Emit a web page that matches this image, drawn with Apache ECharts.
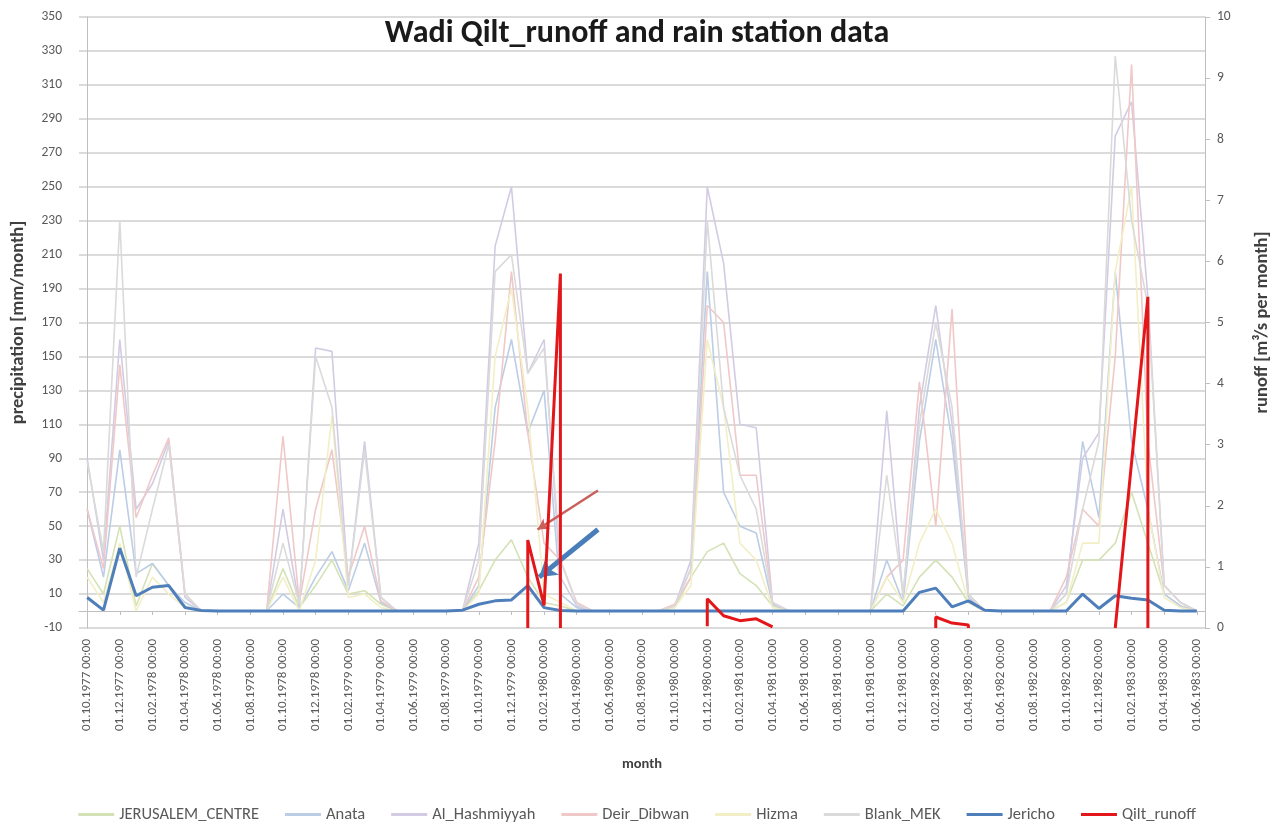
<!DOCTYPE html>
<html>
<head>
<meta charset="utf-8">
<script src="https://cdn.jsdelivr.net/npm/echarts@6/dist/echarts.min.js"></script>
<style>
html,body{margin:0;padding:0;background:#fff;}
#chart{width:1274px;height:823px;}
</style>
</head>
<body>
<div id="chart"></div>
<script>
var months = [
 "01.10.1977 00:00","01.11.1977 00:00","01.12.1977 00:00",
 "01.01.1978 00:00","01.02.1978 00:00","01.03.1978 00:00","01.04.1978 00:00","01.05.1978 00:00","01.06.1978 00:00",
 "01.07.1978 00:00","01.08.1978 00:00","01.09.1978 00:00","01.10.1978 00:00","01.11.1978 00:00","01.12.1978 00:00",
 "01.01.1979 00:00","01.02.1979 00:00","01.03.1979 00:00","01.04.1979 00:00","01.05.1979 00:00","01.06.1979 00:00",
 "01.07.1979 00:00","01.08.1979 00:00","01.09.1979 00:00","01.10.1979 00:00","01.11.1979 00:00","01.12.1979 00:00",
 "01.01.1980 00:00","01.02.1980 00:00","01.03.1980 00:00","01.04.1980 00:00","01.05.1980 00:00","01.06.1980 00:00",
 "01.07.1980 00:00","01.08.1980 00:00","01.09.1980 00:00","01.10.1980 00:00","01.11.1980 00:00","01.12.1980 00:00",
 "01.01.1981 00:00","01.02.1981 00:00","01.03.1981 00:00","01.04.1981 00:00","01.05.1981 00:00","01.06.1981 00:00",
 "01.07.1981 00:00","01.08.1981 00:00","01.09.1981 00:00","01.10.1981 00:00","01.11.1981 00:00","01.12.1981 00:00",
 "01.01.1982 00:00","01.02.1982 00:00","01.03.1982 00:00","01.04.1982 00:00","01.05.1982 00:00","01.06.1982 00:00",
 "01.07.1982 00:00","01.08.1982 00:00","01.09.1982 00:00","01.10.1982 00:00","01.11.1982 00:00","01.12.1982 00:00",
 "01.01.1983 00:00","01.02.1983 00:00","01.03.1983 00:00","01.04.1983 00:00","01.05.1983 00:00","01.06.1983 00:00"
];

var jerusalemCentre = [25,10,50,3,28,15,3,0, 0,0,0,0, 25,2,15,30,10,12,4,0, 0,0,0,0, 12,30,42,20,5,3,0,0, 0,0,0,0, 2,20,35,40,22,15,3,0, 0,0,0,0, 0,10,3,20,30,20,5,0, 0,0,0,0, 5,30,30,40,70,40,10,3,0];
var anata = [60,20,95,22,28,15,5,0, 0,0,0,0, 10,2,20,35,12,40,5,0, 0,0,0,0, 15,120,160,105,130,10,2,0, 0,0,0,0, 3,25,200,70,50,46,4,0, 0,0,0,0, 0,30,5,100,160,100,8,0, 0,0,0,0, 10,100,55,200,100,60,10,3,0];
var alHashmiyyah = [90,30,160,60,75,100,8,0, 0,0,0,0, 60,3,155,153,15,100,8,0, 0,0,0,0, 40,215,250,140,160,20,3,0, 0,0,0,0, 3,30,250,205,110,108,5,0, 0,0,0,0, 0,118,8,120,180,110,10,0, 0,0,0,0, 15,90,105,280,300,185,15,5,0];
var deirDibwan = [60,25,145,55,80,102,10,0, 0,0,0,0, 103,5,60,95,20,50,6,0, 0,0,0,0, 20,100,200,105,40,30,5,0, 0,0,0,0, 4,20,180,170,80,80,5,0, 0,0,0,0, 0,20,30,135,50,178,10,0, 0,0,0,0, 20,60,50,150,322,100,15,5,0];
var hizma = [20,5,40,0,20,10,2,0, 0,0,0,0, 20,0,30,115,8,10,2,0, 0,0,0,0, 10,150,190,120,10,5,0,0, 0,0,0,0, 2,15,160,120,40,30,2,0, 0,0,0,0, 0,20,5,40,60,40,5,0, 0,0,0,0, 5,40,40,200,250,60,8,2,0];
var blankMEK = [88,35,230,20,60,98,10,0, 0,0,0,0, 40,4,150,120,15,95,8,0, 0,0,0,0, 30,200,210,140,155,30,4,0, 0,0,0,0, 3,25,230,120,80,60,5,0, 0,0,0,0, 0,80,10,110,170,120,10,0, 0,0,0,0, 10,60,100,327,230,180,15,5,0];
var jericho = [8,0.5,37,9,14,15,2,0.3, 0,0,0,0, 0,0,0,0,0,0,0,0, 0,0,0,0.5, 4,6,6.5,15,2,0.3,0,0, 0,0,0,0, 0,0,0,0,0,0,0,0, 0,0,0,0, 0,0,0,11,13.5,2.5,6,0.5, 0,0,0,0, 0,10,1.5,9,7.5,6.5,0.5,0,0];
// Qilt runoff: [month index, m3/s]; several readings can fall in one month; null breaks the line
var qiltRunoff = [[27,0],[27,1.44],[28,0.37],[29,5.8],[29,0],[30,null],
                  [38,0.03],[38,0.48],[39,0.2],[40,0.12],[41,0.15],[42,0.02],[43,null],
                  [52,0],[52,0.18],[53,0.08],[54,0.05],[54,0],[55,null],
                  [63,0],[65,5.42],[65,0]];
var yLeftTicks = {min:-10, max:350, interval:20};
var yRightTicks = {min:0, max:10, interval:1};
// annotation arrows: [from(monthIndex, mm), to(monthIndex, mm)]
var arrowRed = [[31.3,71],[27.6,48]];
var arrowBlue = [[31.3,48],[27.7,20]];

var FONT = 'Carlito, Calibri, Lato, "Open Sans", sans-serif';
var chart = echarts.init(document.getElementById('chart'));

function station(name, data, color){
  return {name:name, type:'line', data:data, yAxisIndex:0, xAxisIndex:0,
    showSymbol:false, symbol:'none', color:color,
    lineStyle:{color:color, width:1.6}, z:2, animation:false};
}

var option = {
  animation:false,
  backgroundColor:'#ffffff',
  textStyle:{fontFamily:FONT},
  title:{text:'Wadi Qilt_runoff and rain station data', left:'center', top:13,
    textStyle:{fontFamily:FONT, fontSize:32, fontWeight:'bold', color:'#1a1a1a'}},
  grid:{left:79, right:69, top:17, bottom:195, containLabel:false, outerBoundsMode:'none'},
  legend:{top:801, left:'center', icon:'rect', itemWidth:36, itemHeight:3, itemGap:26,
    textStyle:{fontFamily:FONT, fontSize:16.5, color:'#595959'},
    data:['JERUSALEM_CENTRE','Anata','Al_Hashmiyyah','Deir_Dibwan','Hizma','Blank_MEK','Jericho','Qilt_runoff']},
  xAxis:[{type:'category', data:months, boundaryGap:true,
    axisLine:{lineStyle:{color:'#bfbfbf', width:1}},
    axisTick:{show:true, interval:1, alignWithLabel:true, length:4, lineStyle:{color:'#bfbfbf'}},
    axisLabel:{interval:1, rotate:90, fontSize:13, color:'#595959', margin:11, fontFamily:FONT},
    splitLine:{show:false},
    name:'month', nameLocation:'middle', nameGap:129,
    nameTextStyle:{fontFamily:FONT, fontSize:14.5, fontWeight:'bold', color:'#404040'}},
   {type:'value', show:false, min:-0.5, max:months.length-0.5}],
  yAxis:[{type:'value', min:yLeftTicks.min, max:yLeftTicks.max, interval:yLeftTicks.interval, position:'left',
    axisLine:{show:true, lineStyle:{color:'#bfbfbf'}}, axisTick:{show:false},
    axisLabel:{fontSize:13.5, color:'#595959', margin:17, fontFamily:FONT},
    splitLine:{show:true, lineStyle:{color:'#cfcfcf', width:1.6}},
    name:'precipitation [mm/month]', nameLocation:'middle', nameGap:51, nameRotate:90,
    nameTextStyle:{fontFamily:FONT, fontSize:18.5, fontWeight:'bold', color:'#404040'}},
   {type:'value', min:yRightTicks.min, max:yRightTicks.max, interval:yRightTicks.interval, position:'right',
    axisLine:{show:true, lineStyle:{color:'#bfbfbf'}}, axisTick:{show:true, length:5, inside:false, lineStyle:{color:'#bfbfbf'}},
    axisLabel:{fontSize:13.5, color:'#595959', margin:12, fontFamily:FONT},
    splitLine:{show:false},
    name:'runoff [m³/s per month]', nameLocation:'middle', nameGap:48, nameRotate:90,
    nameTextStyle:{fontFamily:FONT, fontSize:18.5, fontWeight:'bold', color:'#404040'}}],
  series:[
    station('JERUSALEM_CENTRE', jerusalemCentre, '#d4e2b6'),
    station('Anata', anata, '#bccde6'),
    station('Al_Hashmiyyah', alHashmiyyah, '#d3cbe4'),
    station('Deir_Dibwan', deirDibwan, '#f0c8c8'),
    station('Hizma', hizma, '#f2efc6'),
    station('Blank_MEK', blankMEK, '#dadada'),
    {name:'Jericho', type:'line', data:jericho, yAxisIndex:0, showSymbol:false, symbol:'none',
      color:'#4f7fbb', lineStyle:{color:'#4f7fbb', width:3}, z:4},
    {name:'Qilt_runoff', type:'line', data:qiltRunoff, yAxisIndex:1, showSymbol:false, symbol:'none',
      color:'#e3161a', lineStyle:{color:'#e3161a', width:3}, z:5, connectNulls:false},
    {name:'arrows', type:'line', xAxisIndex:1, yAxisIndex:0, data:[], symbol:'none', silent:true, z:6,
      markLine:{silent:true, animation:false, label:{show:false},
        data:[
          [{coord:arrowRed[0], symbol:'none', lineStyle:{color:'#c9605e', width:2.5, type:'solid'}},
           {coord:arrowRed[1], symbol:'arrow', symbolSize:[9,11]}],
          [{coord:arrowBlue[0], symbol:'none', lineStyle:{color:'#4a7ebb', width:5, type:'solid'}},
           {coord:arrowBlue[1], symbol:'arrow', symbolSize:[16,17]}]
        ]}}
  ]
};
chart.setOption(option);
</script>
</body>
</html>
